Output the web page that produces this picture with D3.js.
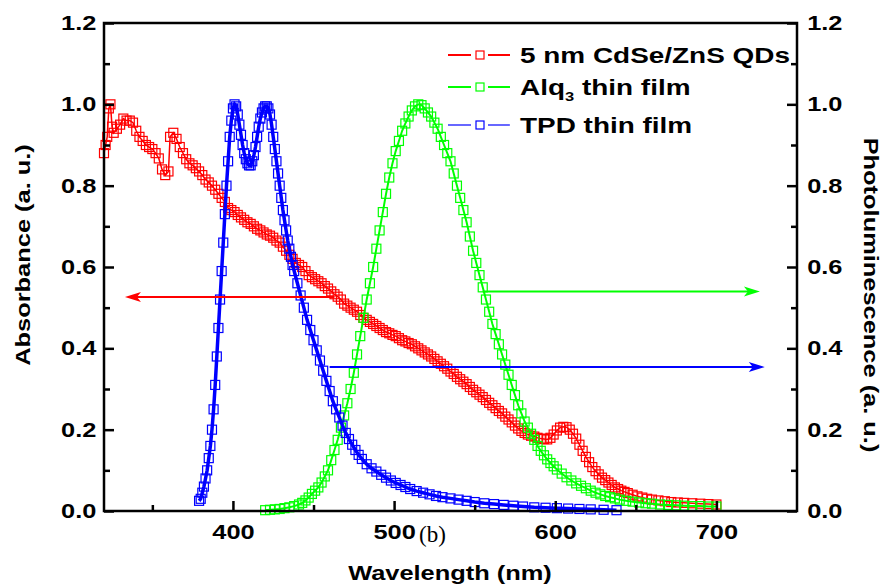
<!DOCTYPE html>
<html>
<head>
<meta charset="utf-8">
<script src="https://cdn.jsdelivr.net/npm/d3@7"></script>
<style>
  body { margin: 0; background: #fff; }
  text { font-family: "Liberation Sans", Arial, sans-serif; font-weight: bold; fill: #000; }
</style>
</head>
<body>
<script>
// absorbance of the 5 nm CdSe/ZnS QDs
let wlQD = [320,321,322,323,324,325,326,328,330,332,334,336,338,340,342,344,346,348,350,352,354,356,358,360,361,363,365,367,369,371,373,375,377,379,381,383,385,387,389,391,393,395,397,399,401,403,405,407,409,411,413,415,417,419,421,423,425,427,429,431,433,435,437,439,441,443,445,447,449,451,453,455,457,459,461,463,465,467,469,471,473,475,477,479,481,483,485,487,489,491,493,495,497,499,501,503,505,507,509,511,513,515,517,519,521,523,525,527,529,531,533,535,537,539,541,543,545,547,549,551,553,555,557,559,561,563,565,567,569,571,573,575,577,579,581,583,585,587,589,591,593,595,597,599,601,603,605,607,609,611,613,615,617,619,621,623,625,627,629,631,633,635,637,639,641,643,645,648,651,654,657,660,664,668,672,676,680,685,690,695,700]
let absQD = [0.88,0.90,0.92,0.99,1.00,0.945,0.93,0.94,0.95,0.965,0.96,0.96,0.955,0.935,0.92,0.91,0.90,0.895,0.89,0.88,0.867,0.84,0.826,0.835,0.92,0.93,0.915,0.895,0.88,0.865,0.855,0.85,0.843,0.835,0.826,0.815,0.808,0.80,0.79,0.78,0.77,0.76,0.745,0.74,0.735,0.728,0.722,0.716,0.71,0.706,0.70,0.694,0.69,0.685,0.68,0.677,0.672,0.665,0.66,0.65,0.64,0.63,0.62,0.61,0.605,0.60,0.59,0.58,0.575,0.57,0.565,0.56,0.553,0.547,0.54,0.533,0.527,0.52,0.51,0.505,0.50,0.495,0.49,0.482,0.475,0.47,0.465,0.46,0.455,0.45,0.445,0.44,0.437,0.433,0.43,0.425,0.42,0.417,0.413,0.41,0.405,0.40,0.395,0.39,0.385,0.38,0.374,0.368,0.362,0.356,0.35,0.343,0.337,0.33,0.324,0.318,0.312,0.305,0.298,0.292,0.286,0.28,0.273,0.266,0.26,0.253,0.246,0.24,0.232,0.225,0.218,0.21,0.203,0.197,0.192,0.188,0.185,0.183,0.18,0.178,0.177,0.176,0.18,0.188,0.198,0.205,0.207,0.206,0.20,0.19,0.178,0.163,0.148,0.133,0.12,0.108,0.098,0.09,0.082,0.076,0.07,0.064,0.058,0.054,0.05,0.047,0.044,0.04,0.036,0.033,0.03,0.028,0.026,0.024,0.022,0.021,0.02,0.019,0.018,0.017,0.016]

// photoluminescence of the Alq3 thin film
let wlAlq = [420,423,426,429,432,435,438,441,443,445,447,449,451,453,455,457,459,461,463,465,467,469,471,473,475,477,479,481,483,485,487,489,491,493,495,497,499,501,503,505,507,509,511,513,515,517,519,521,523,525,527,529,531,533,535,537,539,541,543,545,547,549,551,553,555,557,559,561,563,565,567,569,571,573,575,577,579,581,583,585,587,589,591,593,595,597,599,601,604,607,610,613,616,619,622,625,628,631,634,637,640,644,648,652,656,660,665,670,675,680,685,690,695,700]
let plAlq = [0.002,0.003,0.004,0.005,0.007,0.009,0.012,0.016,0.02,0.026,0.033,0.042,0.05,0.058,0.07,0.085,0.10,0.125,0.15,0.175,0.205,0.235,0.265,0.30,0.34,0.385,0.43,0.475,0.52,0.56,0.60,0.645,0.69,0.735,0.78,0.82,0.855,0.885,0.91,0.935,0.953,0.97,0.985,0.995,1.0,0.998,0.99,0.98,0.97,0.955,0.94,0.92,0.90,0.88,0.86,0.83,0.80,0.77,0.74,0.71,0.675,0.64,0.61,0.58,0.55,0.52,0.49,0.46,0.435,0.41,0.385,0.36,0.335,0.31,0.285,0.26,0.24,0.22,0.205,0.19,0.175,0.16,0.148,0.137,0.127,0.118,0.11,0.102,0.092,0.083,0.075,0.068,0.062,0.056,0.05,0.045,0.041,0.037,0.034,0.031,0.028,0.025,0.023,0.021,0.019,0.018,0.016,0.015,0.014,0.013,0.012,0.012,0.011,0.011]

// photoluminescence of the TPD thin film
let wlTPD = [379,380,381,382,383,384,385,386,387,388,389,390,391,392,393,394,395,396,397,398,399,400,401,402,403,404,405,406,407,408,409,410,411,412,413,414,415,416,417,418,419,420,421,422,423,424,425,426,427,428,429,430,431,432,433,434,435,436,437,438,440,442,444,446,448,450,452,454,456,458,460,462,464,466,468,470,472,474,476,478,480,483,486,489,492,495,498,501,504,507,510,514,518,522,526,530,535,540,545,550,556,562,568,574,580,587,594,601,608,615,622,630,638]
let plTPD = [0.025,0.03,0.045,0.06,0.08,0.10,0.13,0.16,0.20,0.25,0.31,0.38,0.45,0.52,0.59,0.66,0.73,0.80,0.86,0.92,0.96,0.99,1.0,0.995,0.975,0.95,0.925,0.90,0.88,0.865,0.855,0.85,0.85,0.86,0.875,0.895,0.92,0.945,0.965,0.98,0.99,0.995,0.995,0.99,0.975,0.95,0.92,0.89,0.86,0.83,0.80,0.77,0.74,0.715,0.69,0.665,0.645,0.625,0.605,0.59,0.56,0.53,0.50,0.47,0.445,0.42,0.395,0.37,0.345,0.32,0.295,0.27,0.25,0.23,0.21,0.192,0.177,0.163,0.15,0.138,0.128,0.115,0.105,0.097,0.089,0.082,0.075,0.069,0.064,0.059,0.054,0.049,0.045,0.041,0.037,0.034,0.031,0.028,0.025,0.022,0.019,0.017,0.015,0.013,0.011,0.009,0.008,0.007,0.006,0.005,0.004,0.003,0.002]

// arrows pointing to the axis each curve belongs to: [from nm, to nm, level]
let arrowQD = [463, 333, 0.526]
let arrowAlq = [555, 727, 0.54]
let arrowTPD = [460, 730, 0.354]

let xTicks = [400, 500, 600, 700]
let xMinor = [350, 450, 550, 650]
let yTicks = [0, 0.2, 0.4, 0.6, 0.8, 1.0, 1.2]
let yMinor = [0.1, 0.3, 0.5, 0.7, 0.9, 1.1]

let w = 887
let h = 584
let stretch = 1.27   // the source picture has wide-set lettering

let red = "#ff0000"
let green = "#00ff00"
let blue = "#0000ff"

let svg = d3.select("body").append("svg")
  .attr("width", w)
  .attr("height", h)

let x = d3.scaleLinear().domain([320, 750]).range([104, 797])
let y = d3.scaleLinear().domain([0, 1.2]).range([511, 23])

let fmt = d3.format(".1f")

// text stretched along its own direction
let addText = (parent, str, px, py, size, anchor, rot) => {
  return parent.append("text")
    .text(str)
    .attr("transform", `translate(${px},${py}) rotate(${rot || 0}) scale(${stretch},1)`)
    .attr("text-anchor", anchor)
    .style("font-size", size + "px")
}

// curves
let drawSeries = (wl, vals, color, lineW, size) => {
  let pts = wl.map((d, i) => [d, vals[i]])
  let line = d3.line().x(d => x(d[0])).y(d => y(d[1]))
  let g = svg.append("g")
  g.append("path")
    .attr("d", line(pts))
    .attr("fill", "none")
    .attr("stroke", color)
    .attr("stroke-width", lineW)
  g.selectAll("rect")
    .data(pts)
    .enter()
    .append("rect")
    .attr("x", d => x(d[0]) - size / 2)
    .attr("y", d => y(d[1]) - size / 2)
    .attr("width", size)
    .attr("height", size)
    .attr("fill", "none")
    .attr("stroke", color)
    .attr("stroke-width", 1.2)
}

drawSeries(wlQD, absQD, red, 1.5, 9)
drawSeries(wlAlq, plAlq, green, 2, 9)
drawSeries(wlTPD, plTPD, blue, 3.5, 9)

// arrows
let drawArrow = (a, color) => {
  let x1 = x(a[0]), x2 = x(a[1]), yy = y(a[2])
  let dir = x2 > x1 ? 1 : -1
  svg.append("line")
    .attr("x1", x1).attr("y1", yy)
    .attr("x2", x2 - dir * 10).attr("y2", yy)
    .attr("stroke", color)
    .attr("stroke-width", 2)
  svg.append("path")
    .attr("d", `M${x2},${yy} L${x2 - dir * 16},${yy - 5} L${x2 - dir * 12},${yy} L${x2 - dir * 16},${yy + 5} Z`)
    .attr("fill", color)
}
drawArrow(arrowQD, red)
drawArrow(arrowAlq, green)
drawArrow(arrowTPD, blue)

// frame and axes
svg.append("rect")
  .attr("x", 104).attr("y", 23)
  .attr("width", 693).attr("height", 488)
  .attr("fill", "none")
  .attr("stroke", "#000")
  .attr("stroke-width", 2.5)

let styleAxis = (g) => {
  g.select(".domain").remove()
  g.selectAll(".tick line").attr("stroke", "#000").attr("stroke-width", 2.5)
  g.selectAll(".tick text")
    .attr("fill", "#000")
    .attr("transform", `scale(${stretch},1)`)
    .style("font-size", "20px")
    .style("font-family", "Liberation Sans, Arial, sans-serif")
    .style("font-weight", "bold")
}

svg.append("g")
  .attr("transform", "translate(0,511)")
  .call(d3.axisBottom(x).tickValues(xTicks).tickSize(-10).tickPadding(14).tickFormat(d3.format("d")))
  .call(styleAxis)
svg.append("g")
  .attr("transform", "translate(0,511)")
  .call(d3.axisBottom(x).tickValues(xMinor).tickSize(-6).tickFormat(""))
  .call(styleAxis)

svg.append("g")
  .attr("transform", "translate(104,0)")
  .call(d3.axisLeft(y).tickValues(yTicks).tickSize(-10).tickPadding(6).tickFormat(fmt))
  .call(styleAxis)
svg.append("g")
  .attr("transform", "translate(104,0)")
  .call(d3.axisLeft(y).tickValues(yMinor).tickSize(-6).tickFormat(""))
  .call(styleAxis)

svg.append("g")
  .attr("transform", "translate(797,0)")
  .call(d3.axisRight(y).tickValues(yTicks).tickSize(-10).tickPadding(8).tickFormat(fmt))
  .call(styleAxis)
svg.append("g")
  .attr("transform", "translate(797,0)")
  .call(d3.axisRight(y).tickValues(yMinor).tickSize(-6).tickFormat(""))
  .call(styleAxis)

// axis titles
addText(svg, "Wavelength (nm)", 450, 580, 20, "middle")
addText(svg, "Absorbance (a. u.)", 30, 255, 20, "middle", -90)
addText(svg, "Photoluminescence (a. u.)", 864, 295, 20, "middle", 90)

svg.append("text")
  .text("(b)")
  .attr("x", 419).attr("y", 542)
  .style("font-family", "Liberation Serif, Times New Roman, serif")
  .style("font-weight", "normal")
  .style("font-size", "23px")

// legend
let legendRows = [
  {color: red, lw: 2, y: 55},
  {color: green, lw: 2, y: 87},
  {color: blue, lw: 1.2, y: 125}
]
let legend = svg.append("g").attr("id", "legend")
legendRows.forEach(r => {
  legend.append("line").attr("x1", 448).attr("x2", 471).attr("y1", r.y).attr("y2", r.y)
    .attr("stroke", r.color).attr("stroke-width", r.lw)
  legend.append("line").attr("x1", 488).attr("x2", 510).attr("y1", r.y).attr("y2", r.y)
    .attr("stroke", r.color).attr("stroke-width", r.lw)
  legend.append("rect").attr("x", 476).attr("y", r.y - 4).attr("width", 8).attr("height", 8)
    .attr("fill", "none").attr("stroke", r.color).attr("stroke-width", 1.2)
})
addText(legend, "5 nm CdSe/ZnS QDs", 520, 63, 22, "start")
let alq = addText(legend, "", 520, 95, 22, "start")
alq.append("tspan").text("Alq")
alq.append("tspan").text("3").attr("dy", 6).style("font-size", "13px")
alq.append("tspan").text(" thin film").attr("dy", -6)
addText(legend, "TPD thin film", 520, 133, 22, "start")
</script>
</body>
</html>
